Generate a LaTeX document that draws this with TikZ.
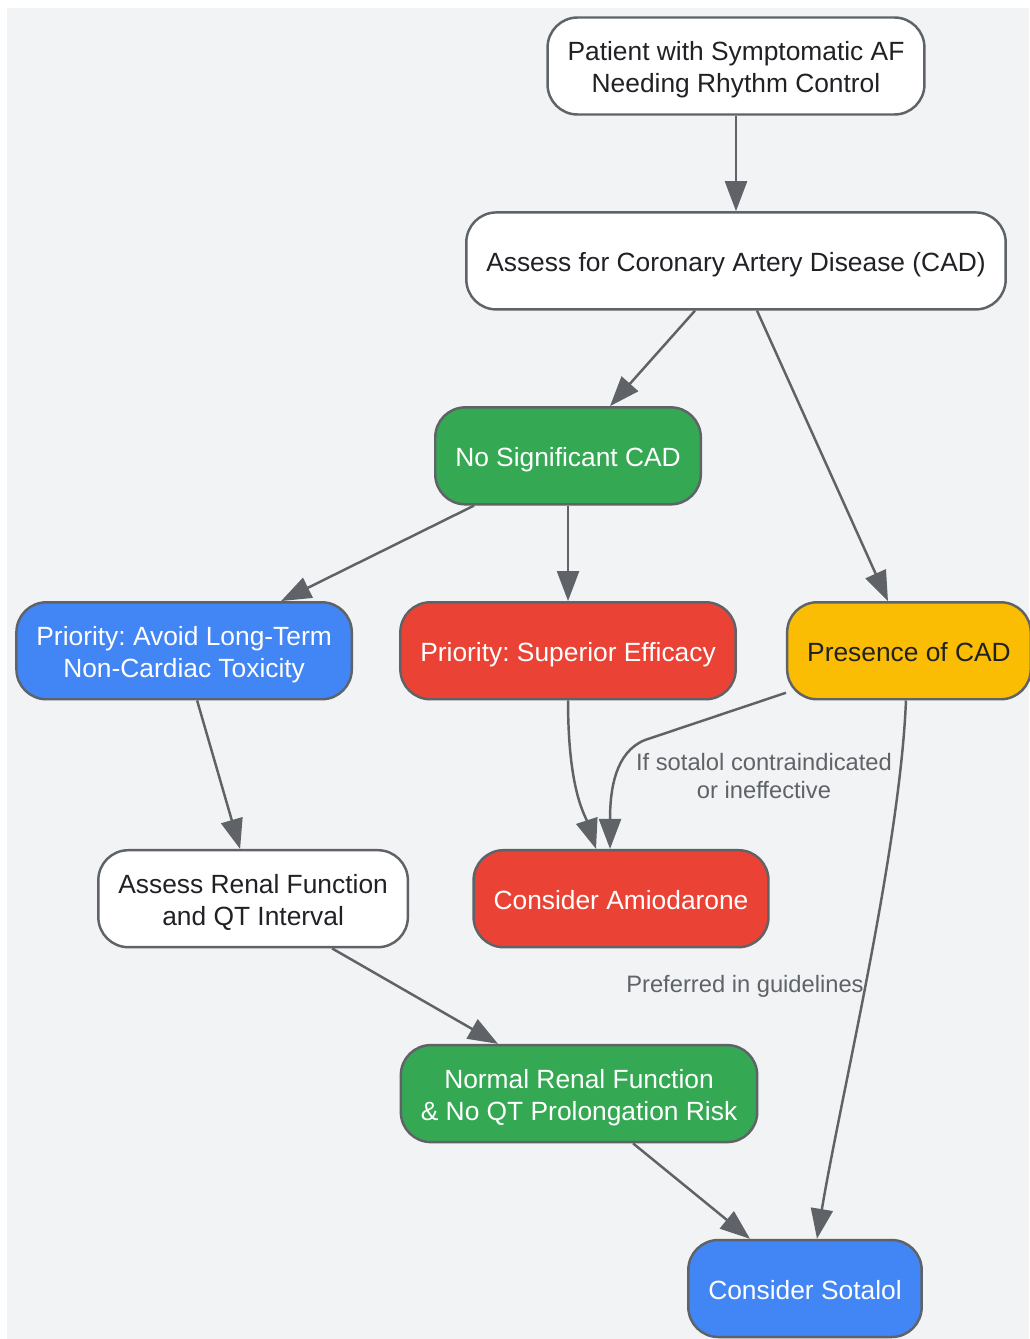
\documentclass[tikz,border=0pt]{standalone}
\usepackage{fontspec}
\setmainfont{Liberation Sans}
\frenchspacing
\usetikzlibrary{positioning,arrows.meta}

\definecolor{bggray}{HTML}{F1F3F4}
\definecolor{edgegray}{HTML}{5F6368}
\definecolor{txtdark}{HTML}{202124}
\definecolor{ggreen}{HTML}{34A853}
\definecolor{gred}{HTML}{EA4335}
\definecolor{gblue}{HTML}{4285F4}
\definecolor{gyellow}{HTML}{FBBC04}

\tikzset{
  box/.style={draw=edgegray, line width=1.4pt, rounded corners=0.6cm, align=center,
    minimum height=1.94cm, inner xsep=0.4cm, font=\fontsize{15}{18.2}\selectfont,
    text height=0.52cm, text depth=0.1cm},
  twoline/.style={text height=1.16cm, text depth=0.1cm},
  wbox/.style={box, fill=white, text=txtdark},
  gbox/.style={box, fill=ggreen, text=white},
  rbox/.style={box, fill=gred, text=white},
  bbox/.style={box, fill=gblue, text=white},
  ybox/.style={box, fill=gyellow, text=txtdark},
  arr/.style={draw=edgegray, line width=1.4pt, -{Triangle[length=0.6cm,width=0.44cm]}},
  lbl/.style={text=edgegray, align=center, font=\fontsize{13.5}{15.9}\selectfont}
}

\begin{document}
\begin{tikzpicture}[x=0.02cm, y=-0.02cm, node distance=1.91cm]
    \useasboundingbox (0,0) rectangle (1029,1339);
    \fill[bggray] (7,8) rectangle (1029,1339);

    \node[wbox, twoline] (pat) at (736,66) {Patient with Symptomatic AF\\Needing Rhythm Control};
    \node[wbox, below=of pat] (cad) {Assess for Coronary Artery Disease (CAD)};
    \node[gbox, below=of cad, xshift=-3.36cm] (nocad) {No Significant CAD};
    \node[bbox, twoline, below=of nocad, xshift=-7.68cm] (tox) {Priority: Avoid Long-Term\\Non-Cardiac Toxicity};
    \node[rbox, below=of nocad] (eff) {Priority: Superior Efficacy};
    \node[ybox, below=of nocad, xshift=6.82cm] (pres) {Presence of CAD};
    \node[wbox, twoline, below=2.97cm of tox, xshift=1.38cm] (renal) {Assess Renal Function\\and QT Interval};
    \node[rbox, below=2.97cm of eff, xshift=1.06cm] (amio) {Consider Amiodarone};
    \node[gbox, twoline, below=of renal, xshift=6.52cm] (norm) {Normal Renal Function\\\& No QT Prolongation Risk};
    \node[bbox, below=of norm, xshift=4.52cm] (sot) {Consider Sotalol};

    \draw[arr] (pat) -- (cad);
    \draw[arr] ([xshift=-0.82cm]cad.south) -- ([xshift=0.84cm]nocad.north);
    \draw[arr] ([xshift=0.42cm]cad.south) -- ([xshift=-0.42cm]pres.north);
    \draw[arr] ([xshift=-1.88cm]nocad.south) -- ([xshift=1.94cm]tox.north);
    \draw[arr] (nocad) -- (eff);
    \draw[arr] ([xshift=0.26cm]tox.south) -- ([xshift=-0.26cm]renal.north);
    \draw[arr] (eff.south) .. controls (568,790) and (585,815) .. ([xshift=-0.5cm]amio.north);
    \draw[arr] ([yshift=-0.84cm]pres.west) -- (645,740)
        .. controls (615,752) and (610,790) .. ([xshift=-0.22cm]amio.north);
    \node[lbl] (lsot) at (764,776) {If sotalol contraindicated\\or ineffective};
    \draw[arr] ([xshift=-0.06cm]pres.south) .. controls (900,850) and (840,1100) .. ([xshift=0.24cm]sot.north);
    \node[lbl] (lpref) at (745,986) {Preferred in guidelines};
    \draw[arr] ([xshift=1.58cm]renal.south) -- ([xshift=-1.62cm]norm.north);
    \draw[arr] ([xshift=1.08cm]norm.south) -- ([xshift=-1.1cm]sot.north);
\end{tikzpicture}
\end{document}
